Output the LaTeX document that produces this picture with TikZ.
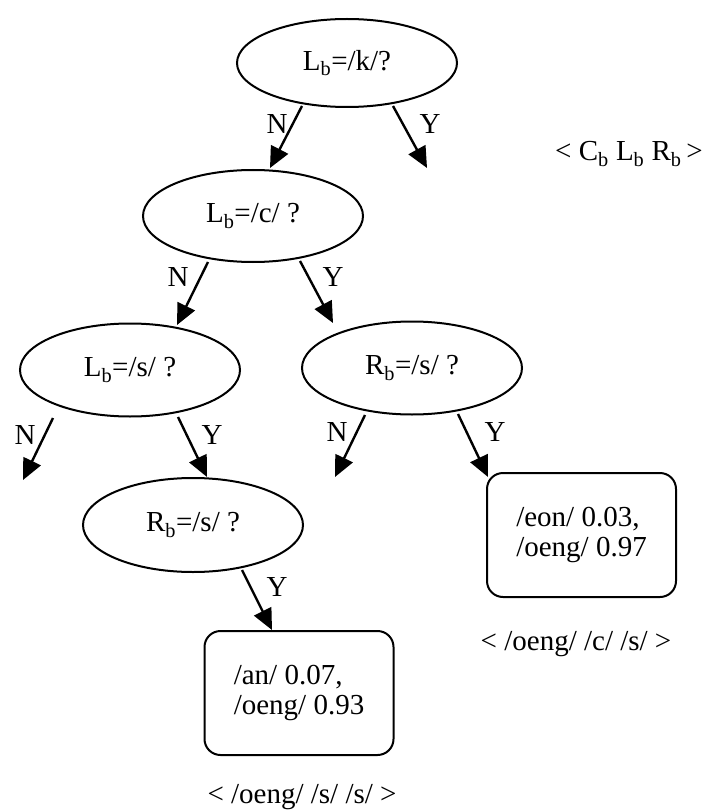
\documentclass[tikz,border=0pt]{standalone}
\usepackage{fontspec}
\setmainfont{Liberation Serif}
\usetikzlibrary{shapes.geometric,arrows.meta,calc}
\begin{document}
\begin{tikzpicture}[x=1pt,y=-1pt,
  font=\fontsize{29}{30}\selectfont,
  test/.style={draw,ellipse,line width=2pt,minimum width=220pt,minimum height=92pt,inner sep=0pt},
  leaf/.style={draw,rectangle,rounded corners=16pt,line width=2pt,minimum width=189pt,minimum height=124pt,align=left,inner sep=0pt},
  arr/.style={line width=2.4pt,-{Triangle[length=21pt,width=19pt]}},
  lbl/.style={inner sep=0pt}]
\useasboundingbox (0,0) rectangle (712,810);

% question nodes
\node[test,minimum height=88pt] (k)   at (347,63)  {L\textsubscript{b}=/k/?};
\node[test] (c)   at (253,216) {L\textsubscript{b}=/c/ ?};
\node[test,minimum height=93pt] (ls)  at (130,370) {L\textsubscript{b}=/s/ ?};
\node[test,minimum height=93pt] (rs1) at (412,368) {R\textsubscript{b}=/s/ ?};
\node[test,minimum height=94pt] (rs2) at (193,525) {R\textsubscript{b}=/s/ ?};

% leaves
\node[leaf] (box1) at (581.5,535) {/eon/ 0.03,\\/oeng/ 0.97};
\node[leaf] (box2) at (299,693) {/an/ 0.07,\\/oeng/ 0.93};

% open branch ends
\coordinate (ky)  at (427,168);
\coordinate (lsn) at (23,480);
\coordinate (rsn) at (335,477);

% branches
\draw[arr] ($(k)+(-45,43)$)   -- ($(c)+(17,-48)$);
\draw[arr] ($(k)+(46,43)$)    -- (ky);
\draw[arr] ($(c)+(-45,46)$)   -- ($(ls)+(47,-45)$);
\draw[arr] ($(c)+(47,45)$)    -- ($(rs1)+(-79,-45)$);
\draw[arr] ($(ls)+(-77,48)$)  -- (lsn);
\draw[arr] ($(ls)+(48,47)$)   -- ($(rs2)+(14,-48)$);
\draw[arr] ($(rs1)+(-47,47)$) -- (rsn);
\draw[arr] ($(rs1)+(46,46)$)  -- ($(box1)+(-93.5,-58)$);
\draw[arr] ($(rs2)+(49,45)$)  -- ($(box2)+(-27,-63)$);

% branch labels
\node[lbl] (kN)   at (277,124) {N};
\node[lbl] (kY)   at (430,124) {Y};
\node[lbl] (cN)   at (178,277) {N};
\node[lbl] (cY)   at (333,277) {Y};
\node[lbl] (lsN)  at (25,435)  {N};
\node[lbl] (lsY)  at (212,435) {Y};
\node[lbl] (rs1N) at (337,432) {N};
\node[lbl] (rs1Y) at (495,432) {Y};
\node[lbl] (rs2Y) at (277,587) {Y};

% context captions
\node[lbl,anchor=east] (ctx)  at (703,154) {< C\textsubscript{b} L\textsubscript{b} R\textsubscript{b}\,>};
\node[lbl] (cap1) at (576,644) {< /oeng/ /c/ /s/ >};
\node[lbl] (cap2) at (302,797) {< /oeng/ /s/ /s/ >};
\end{tikzpicture}
\end{document}
